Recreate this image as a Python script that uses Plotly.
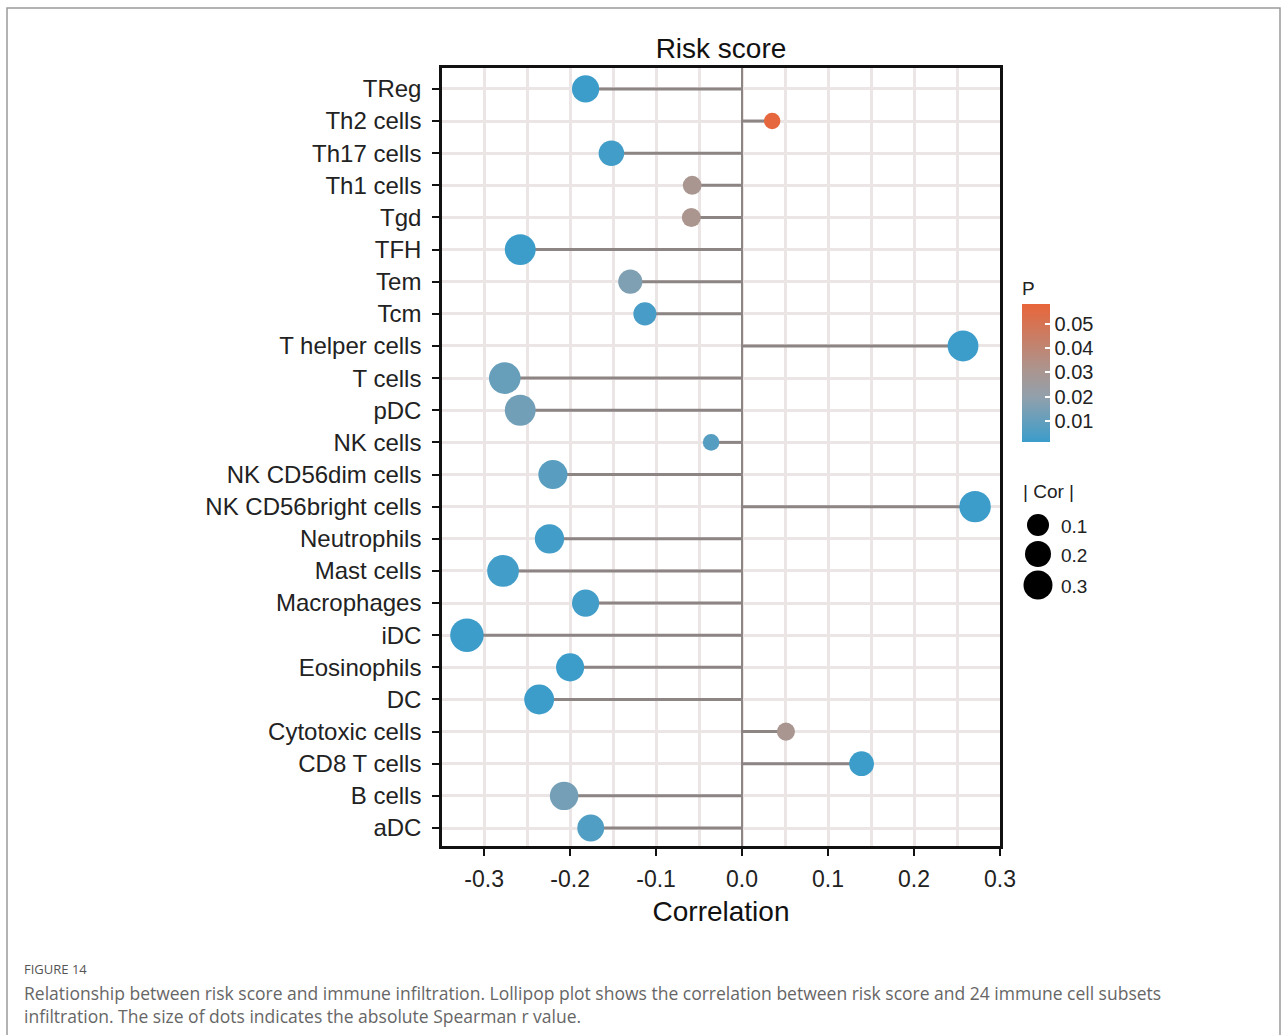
import plotly.graph_objects as go

cells = ["TReg", "Th2 cells", "Th17 cells", "Th1 cells", "Tgd", "TFH", "Tem", "Tcm",
         "T helper cells", "T cells", "pDC", "NK cells", "NK CD56dim cells",
         "NK CD56bright cells", "Neutrophils", "Mast cells", "Macrophages", "iDC",
         "Eosinophils", "DC", "Cytotoxic cells", "CD8 T cells", "B cells", "aDC"]
cor = [-0.182, 0.035, -0.152, -0.058, -0.059, -0.258, -0.130, -0.113,
       0.257, -0.276, -0.258, -0.036, -0.220,
       0.271, -0.224, -0.278, -0.182, -0.320,
       -0.200, -0.236, 0.051, 0.139, -0.207, -0.176]
pval = [0.002, 0.057, 0.003, 0.030, 0.031, 0.002, 0.016, 0.004,
        0.002, 0.011, 0.013, 0.007, 0.008,
        0.002, 0.003, 0.003, 0.003, 0.002,
        0.002, 0.002, 0.030, 0.002, 0.014, 0.006]
x_ticks = [-0.3, -0.2, -0.1, 0.0, 0.1, 0.2, 0.3]
size_legend_vals = [0.1, 0.2, 0.3]
size_legend_px = [22, 26, 29]
cbar_ticks = [0.01, 0.02, 0.03, 0.04, 0.05]

FONT = "Liberation Sans, Arial, sans-serif"
L, T, R, B = 442, 68, 1000, 846
PW, PH = R - L, B - T

def px2x(px):
    return (px - L) / PW

def px2y(py):
    return (B - py) / PH

def dot_size(r):
    return 8 + 45 * abs(r) ** 0.5

fig = go.Figure()

# stems
sx, sy = [], []
for c, v in zip(cells, cor):
    sx += [0, v, None]
    sy += [c, c, None]
fig.add_trace(go.Scatter(x=sx, y=sy, mode="lines",
                         line=dict(color="#8d8484", width=3),
                         hoverinfo="skip", showlegend=False))

colorscale = [[0.0, "#3b9dcb"], [0.33, "#92a0ab"], [0.52, "#ab958f"], [1.0, "#e8653a"]]

fig.add_trace(go.Scatter(
    x=cor, y=cells, mode="markers", showlegend=False,
    marker=dict(size=[dot_size(v) for v in cor], color=pval,
                colorscale=colorscale, cmin=0.0015, cmax=0.058,
                opacity=1, line=dict(width=0),
                showscale=True,
                colorbar=dict(
                    title=dict(text="P", side="top",
                               font=dict(size=19, color="#222", family=FONT)),
                    x=px2x(1022), xanchor="left", xref="paper",
                    y=px2y(442), yanchor="bottom", yref="paper",
                    thickness=28, thicknessmode="pixels",
                    len=164, lenmode="pixels",
                    tickvals=cbar_ticks,
                    ticktext=[f"{t:.2f}" for t in cbar_ticks],
                    ticks="inside", ticklen=5, tickcolor="white", tickwidth=1.5,
                    tickfont=dict(size=20, color="#222", family=FONT),
                    outlinewidth=0, xpad=0, ypad=0,
                ))))

shapes = []
annotations = []

# size legend
annotations.append(dict(text="| Cor |", x=px2x(1021), y=px2y(491), xref="paper", yref="paper",
                        xanchor="left", yanchor="middle", showarrow=False,
                        font=dict(size=19, color="#222", family=FONT)))
for i, (v, d) in enumerate(zip(size_legend_vals, size_legend_px)):
    cy = [525, 554, 585][i]
    shapes.append(dict(type="circle", xref="paper", yref="paper",
                       xsizemode="pixel", ysizemode="pixel",
                       xanchor=px2x(1038), yanchor=px2y(cy),
                       x0=-d / 2, x1=d / 2, y0=-d / 2, y1=d / 2,
                       fillcolor="black", line=dict(width=0)))
    annotations.append(dict(text=f"{v:.1f}", x=px2x(1059), y=px2y(cy + 1), xref="paper", yref="paper",
                            xanchor="left", yanchor="middle", showarrow=False,
                            font=dict(size=19, color="#222", family=FONT)))

# outer frame
shapes.append(dict(type="rect", xref="paper", yref="paper",
                   x0=px2x(7), x1=px2x(1280), y0=px2y(1045), y1=px2y(8),
                   line=dict(color="#9a9a9a", width=1.5), fillcolor="rgba(0,0,0,0)",
                   layer="below"))

# caption
annotations.append(dict(text="FIGURE 14", x=px2x(22), y=px2y(969), xref="paper", yref="paper",
                        xanchor="left", yanchor="middle", showarrow=False,
                        font=dict(size=13, color="#555", family="Open Sans, sans-serif")))
annotations.append(dict(text="Relationship between risk score and immune infiltration. Lollipop plot shows the correlation between risk score and 24 immune cell subsets",
                        x=px2x(22), y=px2y(993), xref="paper", yref="paper",
                        xanchor="left", yanchor="middle", showarrow=False,
                        font=dict(size=17.5, color="#666", family="Open Sans, sans-serif")))
annotations.append(dict(text="infiltration. The size of dots indicates the absolute Spearman r value.",
                        x=px2x(22), y=px2y(1016), xref="paper", yref="paper",
                        xanchor="left", yanchor="middle", showarrow=False,
                        font=dict(size=17.5, color="#666", family="Open Sans, sans-serif")))

grid_col = "#ebe5e5"
fig.update_layout(
    width=1287, height=1035,
    margin=dict(l=L, r=1287 - R, t=T, b=1035 - B, autoexpand=False),
    paper_bgcolor="white", plot_bgcolor="white",
    font=dict(family=FONT, color="#222"),
    title=dict(text="Risk score", x=px2x(721), xref="paper", xanchor="center",
               y=1 - 48 / 1035, yanchor="middle",
               font=dict(size=28, color="#111", family=FONT)),
    shapes=shapes, annotations=annotations,
    xaxis=dict(range=[-0.349, 0.3],
               tickvals=x_ticks, ticktext=[f"{t:.1f}" for t in x_ticks],
               showgrid=True, gridcolor=grid_col, gridwidth=3,
               minor=dict(dtick=0.05, tick0=0, showgrid=True, gridcolor=grid_col, gridwidth=3),
               zeroline=True, zerolinecolor="#8d8484", zerolinewidth=2,
               showline=True, mirror=True, linecolor="#111", linewidth=2.5,
               ticks="outside", ticklen=7, tickwidth=2, tickcolor="#111",
               ticklabelstandoff=4,
               tickfont=dict(size=23, color="#222"),
               title=dict(text="Correlation", font=dict(size=28, color="#111"), standoff=11)),
    yaxis=dict(type="category", categoryorder="array", categoryarray=cells,
               range=[23.56, -0.65],
               showgrid=True, gridcolor=grid_col, gridwidth=3,
               zeroline=False,
               showline=True, mirror=True, linecolor="#111", linewidth=2.5,
               ticks="outside", ticklen=7, tickwidth=2, tickcolor="#111",
               ticklabelstandoff=6,
               tickfont=dict(size=24, color="#222")),
)

fig.write_html("out.html")
